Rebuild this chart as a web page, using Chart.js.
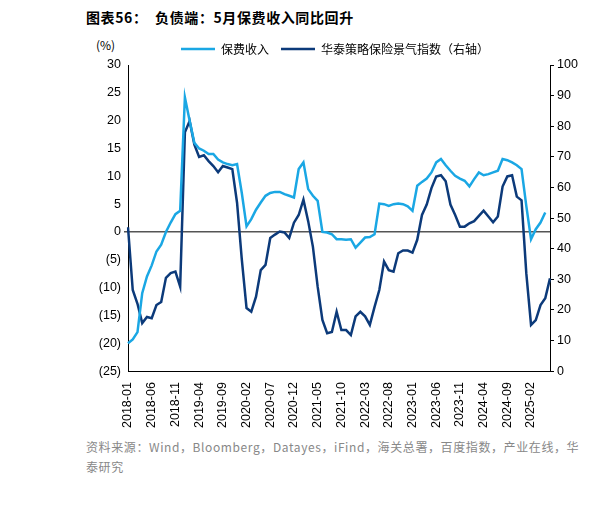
<!DOCTYPE html>
<html>
<head>
<meta charset="utf-8">
<script src="https://cdn.jsdelivr.net/npm/chart.js@4"></script>
<style>
  body { margin: 0; background: #fff; font-family: "Noto Sans CJK SC", sans-serif; }
  #title { position: absolute; left: 86px; top: 7px; font-size: 14px; font-weight: bold; color: #000; letter-spacing: 0.6px; }
  #unit { position: absolute; left: 96px; top: 36px; font-size: 12px; color: #000; }
  #src { position: absolute; left: 86px; top: 437px; width: 495px; font-size: 12px; line-height: 20px; color: #888; letter-spacing: 0.6px; }
  #wrap { position: absolute; left: 80px; top: 31px; width: 510px; height: 400px; }
</style>
</head>
<body>
<div id="title">图表56：&nbsp;&nbsp;负债端：5月保费收入同比回升</div>
<div id="unit">(%)</div>
<div id="wrap"><canvas id="chart"></canvas></div>
<div id="src">资料来源：Wind，Bloomberg，Datayes，iFind，海关总署，百度指数，产业在线，华泰研究</div>
<script>
// months 2018-01 .. 2025-06
const months = [];
for (let y = 2018; y <= 2025; y++) {
  for (let m = 1; m <= 12; m++) {
    if (y === 2025 && m > 6) break;
    months.push(y + '-' + String(m).padStart(2, '0'));
  }
}

// 保费收入 同比 (%), left axis
const premium = [
  -20, -19.3, -18, -11, -8, -6, -3.5, -2.3, 0, 1.7, 3.2, 3.8,
  24.2, 20, 16, 15, 14.6, 14, 14, 13, 12.5, 12.2, 12, 12.2,
  7, 1, 2.3, 4, 5.3, 6.5, 7, 7.2, 7.2, 6.8, 6.5, 6.2,
  11.3, 12.5, 7.7, 6.5, 5.6, 0, -0.1, -0.4, -1.3, -1.3, -1.4, -1.3,
  -2.8, -1.9, -1, -0.9, -0.4, 5.1, 5, 4.7, 5, 5.1, 5, 4.6,
  3.8, 8.3, 9, 9.6, 10.7, 12.5, 13.1, 12, 11, 10.1, 9.6, 9.2,
  8.2, 9.5, 10.7, 10.2, 10.4, 10.7, 11, 13.1, 12.9, 12.5, 12, 11.3,
  4.7, -1.3, 0.5, 1.7, 3.5, null
];

// 华泰策略保险景气指数, right axis
const index = [
  47, 26.5, 22, 15.7, 17.7, 17.3, 21.6, 22.6, 30.5, 32, 32.5, 27.6,
  78, 81.7, 74, 70, 70.5, 68.6, 67, 65, 67, 66.5, 66, 55,
  36.5, 20.6, 19.4, 24.3, 33, 34.7, 43.5, 44.6, 45.6, 45.3, 43.5, 48.5,
  51, 56, 49, 40.6, 27.6, 16.7, 12.4, 12.8, 19.4, 13.4, 13.4, 11.8,
  17.9, 19.4, 17.9, 15.1, 21, 26.5, 35.8, 33, 32.5, 38.5, 39.4, 39.4,
  38.7, 42.9, 51, 54.4, 59.8, 63.6, 64, 62, 54.4, 51, 47.2, 47.2,
  48.3, 49, 50.7, 52.4, 50.5, 48.6, 50.5, 60.3, 63.6, 64, 57, 55.8,
  32, 15.1, 16.7, 21.6, 23.8, 30.3
];

const tickFont = { family: 'Liberation Sans, Arial, sans-serif', size: 12.5 };

new Chart(document.getElementById('chart'), {
  type: 'line',
  data: {
    labels: months,
    datasets: [
      { label: '保费收入', data: premium, yAxisID: 'y', borderColor: '#1aa7e4',
        borderWidth: 2.5, pointRadius: 0, tension: 0 },
      { label: '华泰策略保险景气指数（右轴）', data: index, yAxisID: 'y1', borderColor: '#0c3a7a',
        borderWidth: 2.5, pointRadius: 0, tension: 0 }
    ]
  },
  options: {
    responsive: true,
    maintainAspectRatio: false,
    animation: false,
    layout: { padding: 0 },
    plugins: {
      tooltip: { enabled: false },
      legend: {
        position: 'top',
        labels: {
          font: { family: 'Noto Sans CJK SC', size: 12 }, color: '#000',
          boxWidth: 34, boxHeight: 0, padding: 12
        }
      }
    },
    scales: {
      x: {
        grid: { display: false },
        border: { color: '#000' },
        ticks: {
          autoSkip: false, maxRotation: 90, minRotation: 90, color: '#000', font: tickFont,
          callback: function (v, i) { return i % 5 === 0 ? months[i] : ''; }
        }
      },
      y: {
        position: 'left', min: -25, max: 30,
        afterFit: function (s) { s.width = 48; },
        border: { color: '#000' },
        grid: {
          drawOnChartArea: true, drawTicks: true, tickLength: 4,
          color: function (c) { return c.tick && c.tick.value === 0 ? '#555' : 'rgba(0,0,0,0)'; },
          lineWidth: function (c) { return c.tick && c.tick.value === 0 ? 1.5 : 0; }
        },
        ticks: {
          stepSize: 5, color: '#000', font: tickFont,
          callback: function (v) { return v < 0 ? '(' + (-v) + ')' : v; }
        }
      },
      y1: {
        position: 'right', min: 0, max: 100,
        afterFit: function (s) { s.width = 40; },
        border: { color: '#000' },
        grid: { drawOnChartArea: false, tickLength: 4, color: '#000' },
        ticks: { stepSize: 10, color: '#000', font: tickFont }
      }
    }
  }
});
</script>
</body>
</html>
